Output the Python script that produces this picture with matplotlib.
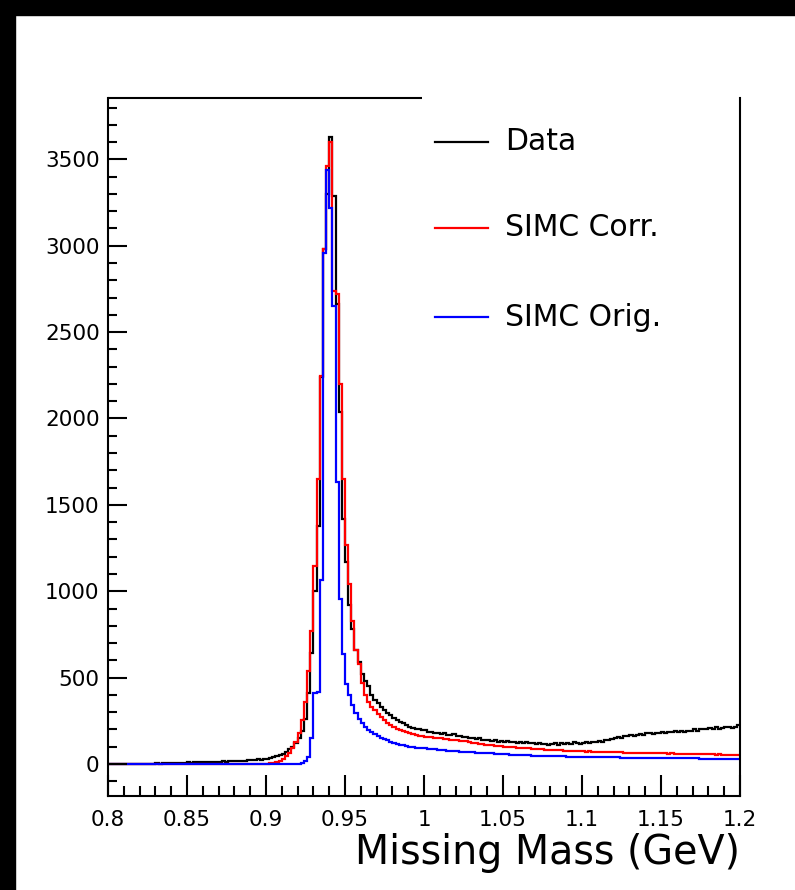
import numpy as np
import matplotlib
matplotlib.use("Agg")
import matplotlib.pyplot as plt
from matplotlib.ticker import MultipleLocator, FixedLocator
from matplotlib.patches import Rectangle

# ---------------- data ----------------
BIN_LO, BIN_HI, N_BINS = 0.8, 1.2, 200
SERIES_LABELS = ["Data", "SIMC Corr.", "SIMC Orig."]
SERIES_COLORS = ["black", "#ff0000", "#0000ff"]

data_counts = [
    # 0.800 - 0.838
    0, 0, 0, 0, 0, 0, 0, 0, 0, 0, 0, 0, 0, 0, 0, 4, 3, 5, 4, 6,
    # 0.840 - 0.878
    5, 7, 6, 8, 7, 9, 8, 10, 9, 11, 10, 12, 11, 13, 14, 12, 15, 14, 16, 17,
    # 0.880 - 0.918
    15, 18, 20, 19, 22, 25, 24, 27, 26, 28, 30, 34, 38, 45, 52, 60, 72, 85, 100, 122,
    # 0.920 - 0.958
    150, 190, 260, 410, 640, 1000, 1380, 2240, 2980, 3300, 3630, 3290, 2660, 2040, 1420, 1170, 920, 780, 660, 590,
    # 0.960 - 0.998
    520, 480, 450, 400, 370, 352, 330, 312, 295, 282, 266, 257, 243, 238, 224, 216, 210, 203, 200, 196,
    # 1.000 - 1.038
    195, 188, 187, 180, 182, 176, 178, 170, 168, 171, 163, 164, 158, 157, 153, 152, 146, 148, 141, 140,
    # 1.040 - 1.078
    138, 133, 137, 130, 131, 126, 132, 125, 127, 122, 126, 120, 125, 119, 122, 116, 121, 117, 114, 110,
    # 1.080 - 1.118
    118, 121, 113, 122, 117, 123, 116, 125, 119, 117, 124, 126, 119, 128, 126, 132, 129, 137, 138, 146,
    # 1.120 - 1.158
    150, 157, 150, 160, 161, 168, 160, 170, 173, 168, 177, 179, 172, 182, 180, 187, 179, 188, 183, 190,
    # 1.160 - 1.198
    184, 192, 185, 194, 193, 200, 192, 202, 205, 200, 209, 202, 212, 204, 209, 214, 216, 208, 215, 226,
]

simc_corr = [
    # 0.800 - 0.838
    0, 0, 0, 0, 0, 0, 0, 0, 0, 0, 0, 0, 0, 0, 0, 0, 0, 0, 0, 0,
    # 0.840 - 0.878
    0, 0, 0, 0, 0, 0, 0, 0, 0, 0, 0, 0, 0, 0, 0, 0, 0, 0, 0, 0,
    # 0.880 - 0.918
    0, 0, 0, 0, 0, 0, 0, 0, 0, 0, 2, 4, 7, 12, 20, 30, 45, 65, 90, 130,
    # 0.920 - 0.958
    178, 253, 358, 540, 770, 1144, 1651, 2245, 2980, 3460, 3600, 2740, 2720, 2200, 1650, 1270, 1040, 830, 660, 580,
    # 0.960 - 0.998
    470, 400, 360, 330, 310, 290, 270, 255, 240, 228, 215, 205, 198, 192, 185, 178, 174, 168, 164, 160,
    # 1.000 - 1.038
    158, 156, 155, 151, 150, 148, 146, 143, 141, 140, 137, 135, 132, 131, 127, 124, 122, 118, 116, 112,
    # 1.040 - 1.078
    110, 108, 107, 104, 104, 101, 100, 98, 98, 95, 94, 93, 91, 90, 88, 88, 86, 85, 84, 83,
    # 1.080 - 1.118
    82, 81, 80, 80, 77, 77, 76, 75, 76, 73, 73, 72, 73, 71, 70, 71, 69, 69, 68, 69,
    # 1.120 - 1.158
    67, 67, 68, 66, 65, 66, 65, 64, 65, 63, 63, 64, 62, 63, 61, 61, 62, 60, 61, 60,
    # 1.160 - 1.198
    59, 60, 59, 58, 59, 58, 57, 58, 57, 56, 57, 56, 55, 56, 55, 55, 54, 55, 54, 53,
]

simc_orig = [
    # 0.800 - 0.838
    0, 0, 0, 0, 0, 0, 0, 0, 0, 0, 0, 0, 0, 0, 0, 0, 0, 0, 0, 0,
    # 0.840 - 0.878
    0, 0, 0, 0, 0, 0, 0, 0, 0, 0, 0, 0, 0, 0, 0, 0, 0, 0, 0, 0,
    # 0.880 - 0.918
    0, 0, 0, 0, 0, 0, 0, 0, 0, 0, 0, 0, 0, 0, 0, 0, 0, 0, 0, 0,
    # 0.920 - 0.958
    0, 5, 15, 40, 150, 410, 415, 1067, 2960, 3440, 3220, 2650, 1630, 954, 638, 465, 397, 339, 293, 260,
    # 0.960 - 0.998
    240, 215, 198, 185, 172, 162, 152, 145, 138, 130, 123, 118, 113, 108, 103, 99, 97, 95, 93, 92,
    # 1.000 - 1.038
    90, 88, 86, 85, 84, 82, 80, 78, 77, 75, 73, 71, 70, 69, 68, 67, 66, 65, 64, 63,
    # 1.040 - 1.078
    62, 61, 60, 59, 58, 57, 56, 55, 54, 53, 52, 51, 50, 50, 49, 48, 48, 47, 47, 46,
    # 1.080 - 1.118
    46, 45, 45, 44, 44, 43, 43, 42, 42, 42, 41, 41, 40, 40, 40, 39, 39, 39, 38, 38,
    # 1.120 - 1.158
    38, 38, 37, 37, 37, 37, 36, 36, 36, 36, 35, 35, 35, 35, 35, 34, 34, 34, 34, 34,
    # 1.160 - 1.198
    34, 33, 33, 33, 33, 33, 33, 32, 32, 32, 32, 32, 32, 32, 31, 31, 31, 31, 31, 31,
]

X_TICKS = [0.8, 0.85, 0.9, 0.95, 1.0, 1.05, 1.1, 1.15, 1.2]
X_TICK_LABELS = ["0.8", "0.85", "0.9", "0.95", "1", "1.05", "1.1", "1.15", "1.2"]
Y_TICKS = [0, 500, 1000, 1500, 2000, 2500, 3000, 3500]
X_LABEL = "Missing Mass (GeV)"

# ---------------- figure ----------------
plt.rcParams["font.family"] = ["DejaVu Sans"]
fig = plt.figure(figsize=(7.95, 8.90), dpi=100)
W, H = 795, 890

# black frame bands of the screenshot
fig.patches.append(Rectangle((0, 1 - 15 / H), 1, 15 / H, transform=fig.transFigure,
                             color="black", zorder=0))
fig.patches.append(Rectangle((0, 0), 15 / W, 1, transform=fig.transFigure,
                             color="black", zorder=0))

ax_l, ax_r, ax_t, ax_b = 108, 740, 98, 796
ax = fig.add_axes([ax_l / W, 1 - ax_b / H, (ax_r - ax_l) / W, (ax_b - ax_t) / H])

edges = np.linspace(BIN_LO, BIN_HI, N_BINS + 1)
for vals, col in zip([data_counts, simc_corr, simc_orig], SERIES_COLORS):
    ax.stairs(vals, edges, baseline=None, color=col, linewidth=1.6)

ax.set_xlim(BIN_LO, BIN_HI)
ax.set_ylim(-185, 3855)

ax.xaxis.set_major_locator(FixedLocator(X_TICKS))
ax.set_xticklabels(X_TICK_LABELS)
ax.xaxis.set_minor_locator(MultipleLocator(0.01))
ax.yaxis.set_major_locator(FixedLocator(Y_TICKS))
ax.yaxis.set_minor_locator(MultipleLocator(100))

ax.tick_params(axis="both", which="both", direction="in", top=False, right=False,
               width=1.5, colors="black", labelsize=15.5)
ax.tick_params(axis="x", which="major", length=15, pad=10)
ax.tick_params(axis="x", which="minor", length=7.5)
ax.tick_params(axis="y", which="major", length=13.5, pad=6)
ax.tick_params(axis="y", which="minor", length=6.5)

for s in ["left", "bottom", "right"]:
    ax.spines[s].set_linewidth(1.5)
ax.spines["top"].set_visible(False)
# visible part of the top frame (rest hidden by the legend pad)
ax.plot([0, (422 - ax_l) / (ax_r - ax_l)], [1, 1], transform=ax.transAxes,
        color="black", linewidth=1.5, clip_on=False, solid_capstyle="butt")

ax.set_xlabel(X_LABEL, fontsize=28.5, loc="right")
ax.xaxis.label.set_verticalalignment("baseline")
ax.xaxis.set_label_coords(1.0, (ax_b - 864) / (ax_b - ax_t))

# legend (no border)
lx0 = (435 - ax_l) / (ax_r - ax_l)
lx1 = (488 - ax_l) / (ax_r - ax_l)
tx = (505 - ax_l) / (ax_r - ax_l)
for lab, col, ypx in zip(SERIES_LABELS, SERIES_COLORS, [142, 228, 317]):
    yy = (ax_b - ypx) / (ax_b - ax_t)
    ax.plot([lx0, lx1], [yy, yy], transform=ax.transAxes, color=col,
            linewidth=1.6, clip_on=False)
    ax.text(tx, yy, lab, transform=ax.transAxes, fontsize=21.5, va="center",
            ha="left")

fig.savefig("out.png", dpi=100)
